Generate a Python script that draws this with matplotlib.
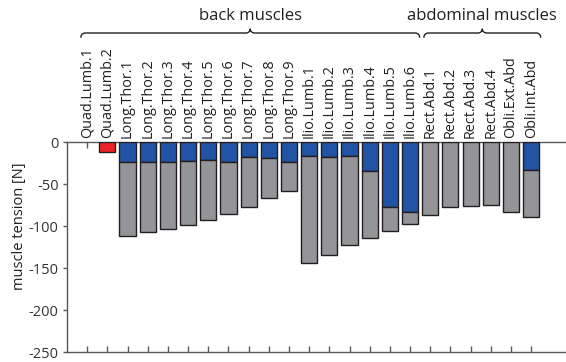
import numpy as np
import matplotlib.pyplot as plt
from matplotlib.transforms import blended_transform_factory

plt.rcParams["font.family"] = ["Open Sans", "DejaVu Sans"]
plt.rcParams["axes.unicode_minus"] = False

# muscle names
muscles = ["Quad.Lumb.1", "Quad.Lumb.2",
           "Long.Thor.1", "Long.Thor.2", "Long.Thor.3", "Long.Thor.4", "Long.Thor.5",
           "Long.Thor.6", "Long.Thor.7", "Long.Thor.8", "Long.Thor.9",
           "Ilio.Lumb.1", "Ilio.Lumb.2", "Ilio.Lumb.3", "Ilio.Lumb.4", "Ilio.Lumb.5", "Ilio.Lumb.6",
           "Rect.Abd.1", "Rect.Abd.2", "Rect.Abd.3", "Rect.Abd.4", "Obli.Ext.Abd", "Obli.Int.Abd"]

# red part (only Quad.Lumb.2)
red_part = [0, -12, 0, 0, 0, 0, 0, 0, 0, 0, 0, 0, 0, 0, 0, 0, 0, 0, 0, 0, 0, 0, 0]
# blue part, from 0 downwards
blue_part = [0, 0, -23, -23, -23, -22.5, -21.5, -24, -18, -18.7, -23,
             -16.7, -18, -16.7, -34.5, -76.7, -83.3,
             0, 0, 0, 0, 0, -33.3]
# total tension (end of grey part)
total = [0, -12, -111.5, -107, -103, -98.5, -92.5, -85, -77.5, -67, -58.5,
         -143.7, -134.5, -122, -114, -105.6, -97,
         -87, -76.7, -75.5, -74.3, -82.6, -89.3]

# groups: (name, first index, last index)
groups = [("back muscles", 0, 16), ("abdominal muscles", 17, 22)]

yticks = [0, -50, -100, -150, -200, -250]

RED = "#ed2224"
BLUE = "#2254a5"
GRAY = "#939598"
EDGE = "#231f20"
AXC = "#58595b"

fig = plt.figure(figsize=(5.66, 3.62), dpi=100)
ax = fig.add_axes([67/566, 1-352/362, 504.5/566, (352-142.3)/362])

x = np.arange(1, len(muscles)+1)
red_part = np.array(red_part, float)
blue_part = np.array(blue_part, float)
total = np.array(total, float)

m = red_part != 0
ax.bar(x[m], red_part[m], width=0.8, color=RED, edgecolor=EDGE, lw=1.0, zorder=3)
m = blue_part != 0
ax.bar(x[m], blue_part[m], width=0.8, color=BLUE, edgecolor=EDGE, lw=1.0, zorder=3)
gray_h = total - np.minimum(blue_part, red_part)
m = gray_h != 0
ax.bar(x[m], gray_h[m], bottom=np.minimum(blue_part, red_part)[m], width=0.8,
       color=GRAY, edgecolor=EDGE, lw=1.0, zorder=3)

ax.set_xlim(0, 25)
ax.set_ylim(-250, 0)
ax.set_yticks(yticks)
ax.set_yticklabels([str(v) for v in yticks], fontsize=10.5, color="#333333")
ax.set_xticks(x)
ax.set_xticklabels([])
ax.tick_params(axis="x", direction="in", length=4, width=1, color=AXC, top=True, bottom=True)
ax.tick_params(axis="y", direction="out", length=3, width=1, color=AXC, pad=3)
ax.spines["right"].set_visible(False)
for s in ["left", "top", "bottom"]:
    ax.spines[s].set_color(AXC)
    ax.spines[s].set_linewidth(1.0)

# rotated muscle labels above the zero line
for xi, name in zip(x, muscles):
    ax.text(xi, 5, name, rotation=90, ha="center", va="bottom", fontsize=10.4,
            color="#231f20", clip_on=False)

fig.text(20/566, 1-226/362, "muscle tension [N]", rotation=90, ha="center", va="center",
         fontsize=10.5, color="#231f20")

# curly brackets for muscle groups
tr = blended_transform_factory(ax.transData, fig.transFigure)

def brace(x0, x1, y, depth=4/362, rx=0.22):
    xm = (x0 + x1) / 2
    t = np.linspace(0, np.pi/2, 12)
    xs, ys = [], []
    # left end curl
    xs += list(x0 + rx*(1-np.cos(t))); ys += list(y - depth + depth*np.sin(t))
    # to tip
    xs += list(xm - rx + rx*np.sin(t)); ys += list(y + depth*(1-np.cos(t)))
    xs += list(xm + rx - rx*np.cos(t)); ys += list(y + depth - depth*np.sin(t))
    # right end curl
    xs += list(x1 - rx + rx*np.sin(t)); ys += list(y - depth*(1-np.cos(t)))
    ax.plot(xs, ys, color="#231f20", lw=1.0, transform=tr, clip_on=False)

for name, i0, i1 in groups:
    x0 = x[i0] - 0.31
    x1 = x[i1] + 0.47
    brace(x0, x1, 1-33/362)
    fig.text((x0+x1)/2, 1-16/362, name, transform=tr, ha="center", va="center",
             fontsize=12, color="#231f20")

fig.savefig("out.png", dpi=100)
